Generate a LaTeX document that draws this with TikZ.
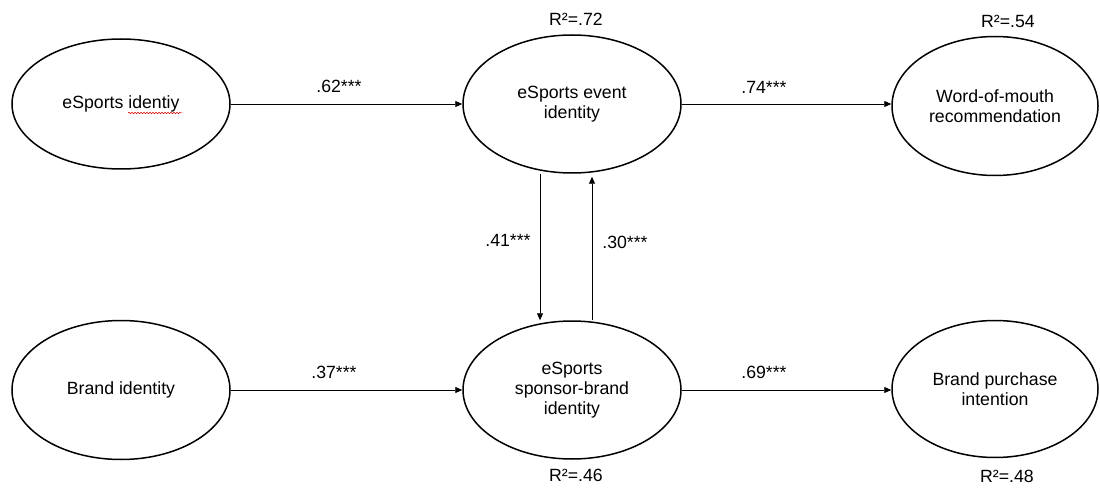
\documentclass[tikz,border=0pt]{standalone}
\usepackage{fontspec}
\setmainfont{Liberation Sans}
\usetikzlibrary{shapes.geometric,arrows.meta,decorations.pathmorphing}
\begin{document}
\begin{tikzpicture}[x=1pt,y=-1pt,
  construct/.style={ellipse,draw=black,line width=1.5pt,inner sep=0pt,align=center,
    font=\fontsize{17.7}{20}\selectfont},
  path/.style={draw=black,line width=0.9pt,-{Triangle[length=7pt,width=6pt]}},
  coef/.style={font=\fontsize{17.7}{20}\selectfont,inner sep=0pt},
  rsq/.style={font=\fontsize{17.7}{20}\selectfont,inner sep=0pt}]
\useasboundingbox (0,0) rectangle (1100,489);
% constructs
\node[construct,minimum width=218pt,minimum height=130pt] (e1) at (121,104) {eSports identiy};
\node[construct,minimum width=218pt,minimum height=138pt] (e2) at (572,104) {eSports event\\identity};
\node[construct,minimum width=206pt,minimum height=139pt] (e3) at (995,106) {Word-of-mouth\\recommendation};
\node[construct,minimum width=218pt,minimum height=139pt] (b1) at (121,390) {Brand identity};
\node[construct,minimum width=218pt,minimum height=138pt] (b2) at (572,390) {eSports\\sponsor-brand\\identity};
\node[construct,minimum width=206pt,minimum height=137pt] (b3) at (995,389) {Brand purchase\\intention};
% spell-check squiggle
\draw[red!85!black,line width=0.5pt,decorate,decoration={snake,amplitude=0.8pt,segment length=3pt}]
  ([xshift=7pt,yshift=-9pt]e1.center) -- ([xshift=61pt,yshift=-9pt]e1.center);
% paths
\draw[path] (e1.east) -- (e2.west);
\draw[path] (e2.east) -- (e2.east -| e3.west);
\draw[path] (b1.east) -- (b2.west);
\draw[path] (b2.east) -- (b2.east -| b3.west);
\draw[path] ([xshift=-32pt]e2.south) -- ([xshift=-32pt]b2.north);
\draw[path] ([xshift=20pt]b2.north) -- ([xshift=20pt,yshift=-3pt]e2.south);
% coefficients
\node[coef] (c1) at (339,86) {.62***};
\node[coef] (c2) at (764,87) {.74***};
\node[coef] (c3) at (334,372) {.37***};
\node[coef] (c4) at (764,372) {.69***};
\node[coef] (c5) at (508,240) {.41***};
\node[coef] (c6) at (625,242) {.30***};
% R squared
\node[rsq] (r1) at (576,19) {R²=.72};
\node[rsq] (r2) at (1008,21) {R²=.54};
\node[rsq] (r3) at (576,475) {R²=.46};
\node[rsq] (r4) at (1007,476) {R²=.48};
\end{tikzpicture}
\end{document}
